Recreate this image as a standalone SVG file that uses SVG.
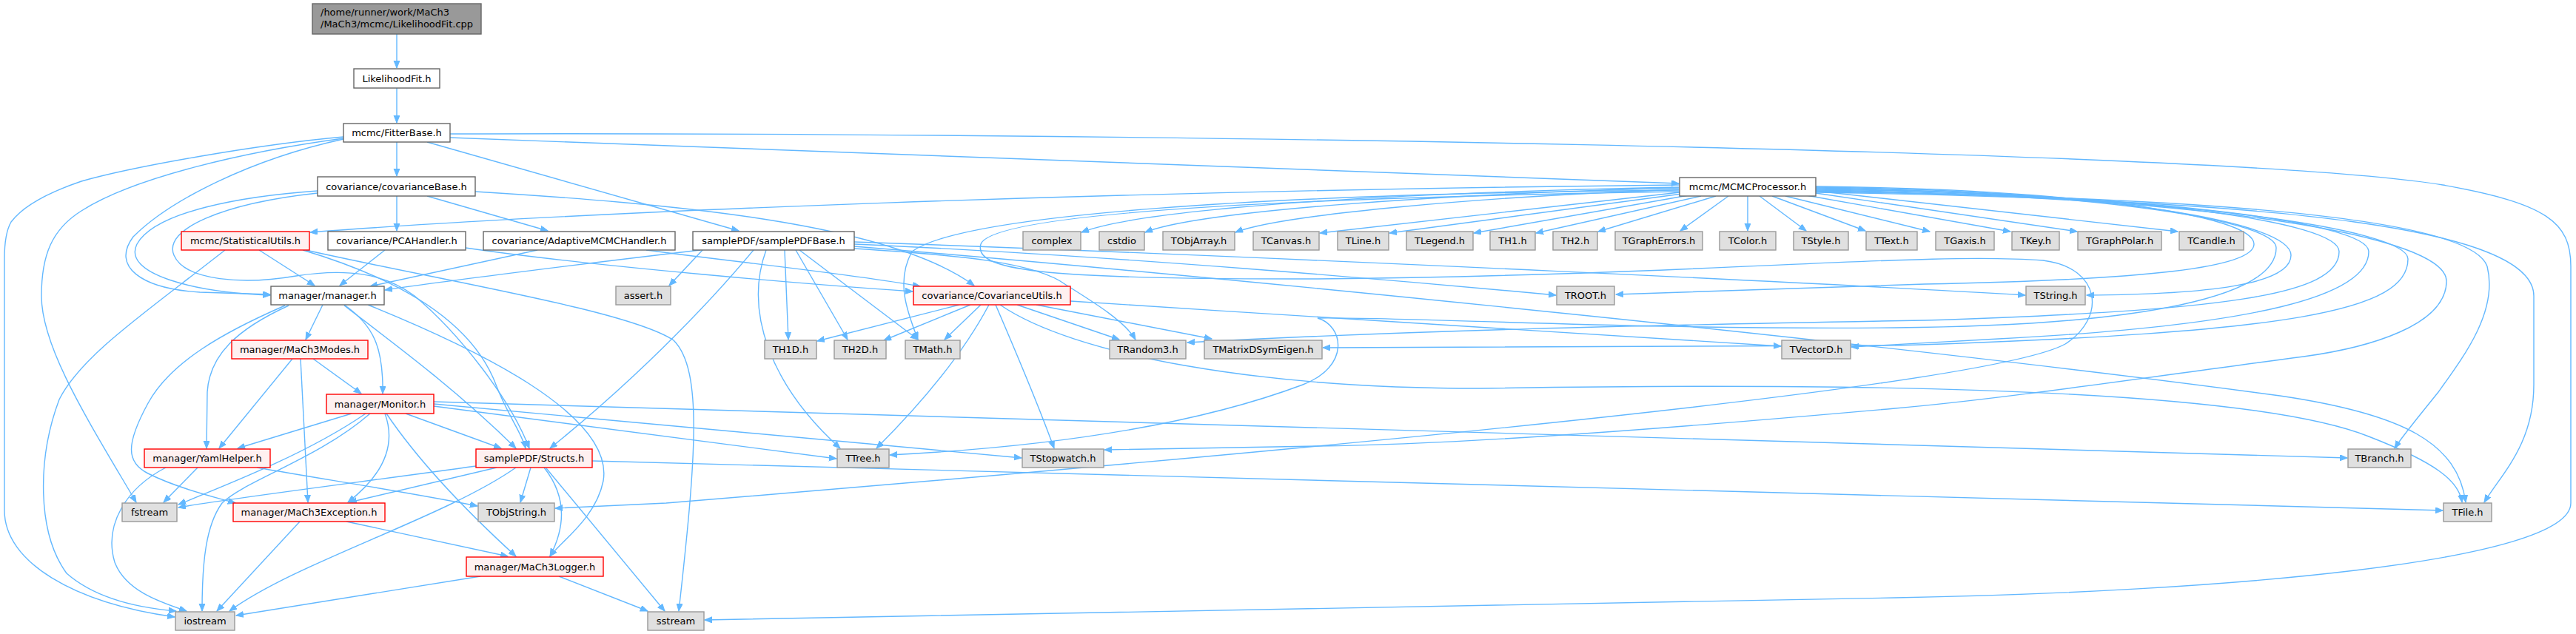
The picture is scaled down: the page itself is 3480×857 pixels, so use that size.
<svg xmlns="http://www.w3.org/2000/svg" width="3480" height="857" viewBox="0 0 3480 857">
<style>
.e{fill:none;stroke:#63B8FF;stroke-width:1.4;marker-end:url(#a)}
.w rect{fill:#FFFFFF;stroke:#666666;stroke-width:1.4}
.g rect{fill:#E0E0E0;stroke:#999999;stroke-width:1.4}
.r rect{fill:#FFF0F0;stroke:#FF0000;stroke-width:1.4}
.top rect{fill:#999999;stroke:#666666;stroke-width:1.4}
text{font-family:"DejaVu Sans","Liberation Sans",sans-serif;font-size:13px;fill:#000000;text-anchor:middle}
</style>
<defs>
<marker id="a" markerUnits="userSpaceOnUse" markerWidth="11" markerHeight="9" refX="10" refY="4" orient="auto"><path d="M0,0 L10,4 L0,8 z" fill="#63B8FF" stroke="#63B8FF" stroke-width="1"/></marker>
</defs>
<rect x="0" y="0" width="3480" height="857" fill="#FFFFFF"/>
<g id="edges">
<path class="e" d="M536,46 L536,92"/>
<path class="e" d="M536,119 L536,166"/>
<path class="e" d="M536,192 L536,238"/>
<path class="e" d="M608,186 L2268,248"/>
<path class="e" d="M577,192 L998,312"/>
<path class="e" d="M608,181 C1400,178 3000,200 3300,250 C3440,275 3473,300 3473,360 L3473,680 C3473,760 3000,800 2560,808 C1900,822 1300,835 952,838"/>
<path class="e" d="M464,185 C350,195 180,225 110,245 C60,262 30,280 15,300 C8,312 6,330 6,350 L6,690 C6,760 100,815 236,834"/>
<path class="e" d="M464,187 C330,205 180,240 110,285 C70,310 56,345 56,400 C56,470 120,570 184,679"/>
<path class="e" d="M464,188 C340,215 230,270 180,320 C150,360 190,390 270,395 L365,398"/>
<path class="e" d="M536,265 L536,312"/>
<path class="e" d="M577,265 L740,312"/>
<path class="e" d="M642,259 C900,275 1200,300 1316,386"/>
<path class="e" d="M429,258 C330,265 210,285 185,330 C165,370 260,395 365,399"/>
<path class="e" d="M429,261 C300,275 220,310 235,345 C250,380 330,385 400,373 C470,362 520,370 560,400 C620,450 690,540 715,606"/>
<path class="e" d="M350,338 L425,386"/>
<path class="e" d="M304,338 C200,420 110,480 80,540 C50,620 50,720 90,775 C130,810 190,822 238,826"/>
<path class="e" d="M409,338 C550,380 640,440 670,520 C685,560 705,585 710,606"/>
<path class="e" d="M413,338 C600,380 850,420 910,460 C950,500 940,620 917,826"/>
<path class="e" d="M520,338 L459,386"/>
<path class="e" d="M629,335 C800,360 1100,385 1233,394"/>
<path class="e" d="M726,338 L500,387"/>
<path class="e" d="M873,338 C1000,355 1150,370 1243,387"/>
<path class="e" d="M946,338 C800,355 600,380 520,392"/>
<path class="e" d="M949,338 L904,386"/>
<path class="e" d="M436,412 L413,459"/>
<path class="e" d="M465,412 C505,440 518,470 517,532"/>
<path class="e" d="M390,413 C320,445 283,480 280,530 L279,606"/>
<path class="e" d="M385,413 C300,450 230,490 200,545 C170,600 170,625 200,640 C240,660 290,672 318,680"/>
<path class="e" d="M465,413 C540,470 620,530 697,606"/>
<path class="e" d="M497,412 C640,470 830,560 815,650 C805,700 760,730 743,752"/>
<path class="e" d="M395,485 L296,606"/>
<path class="e" d="M406,485 L416,679"/>
<path class="e" d="M423,485 L488,532"/>
<path class="e" d="M475,559 L321,606"/>
<path class="e" d="M494,559 C420,610 320,650 241,682"/>
<path class="e" d="M500,559 C430,620 330,650 300,680 C278,710 273,760 273,826"/>
<path class="e" d="M520,559 C535,600 520,640 470,679"/>
<path class="e" d="M548,559 L677,606"/>
<path class="e" d="M522,559 C570,630 640,700 697,752"/>
<path class="e" d="M586,543 C1500,570 2500,600 3171,619"/>
<path class="e" d="M586,546 C900,577 1200,600 1380,619"/>
<path class="e" d="M586,549 C900,590 1050,610 1130,620"/>
<path class="e" d="M224,632 C170,660 140,710 155,760 C170,800 220,815 252,826"/>
<path class="e" d="M267,632 L221,679"/>
<path class="e" d="M347,632 C450,650 550,665 645,684"/>
<path class="e" d="M643,630 C500,650 300,675 241,686"/>
<path class="e" d="M671,632 L472,679"/>
<path class="e" d="M697,632 C600,700 400,760 310,826"/>
<path class="e" d="M717,632 L703,679"/>
<path class="e" d="M735,632 C765,670 765,710 743,752"/>
<path class="e" d="M738,633 L898,826"/>
<path class="e" d="M800,623 L3300,690"/>
<path class="e" d="M468,705 L686,752"/>
<path class="e" d="M405,705 L293,826"/>
<path class="e" d="M649,779 L319,832"/>
<path class="e" d="M755,779 L875,826"/>
<path class="e" d="M1296,412 L1104,461"/>
<path class="e" d="M1311,412 L1194,460"/>
<path class="e" d="M1325,412 L1276,459"/>
<path class="e" d="M1336,412 C1300,480 1240,550 1184,606"/>
<path class="e" d="M1345,412 C1370,470 1400,540 1424,606"/>
<path class="e" d="M1374,412 L1512,459"/>
<path class="e" d="M1400,412 L1637,458"/>
<path class="e" d="M1446,407 C1800,430 2200,455 2406,468"/>
<path class="e" d="M1351,412 C1450,480 1700,525 2000,525 C2600,515 3050,530 3200,590 C3290,625 3322,650 3326,679"/>
<path class="e" d="M1060,338 L1065,459"/>
<path class="e" d="M1075,338 L1145,459"/>
<path class="e" d="M1080,338 L1240,459"/>
<path class="e" d="M1035,338 C1005,420 1040,520 1135,606"/>
<path class="e" d="M1018,338 C950,420 850,520 743,606"/>
<path class="e" d="M1154,330 C1500,345 1900,380 2102,399"/>
<path class="e" d="M1154,327 C1800,350 2500,385 2736,399"/>
<path class="e" d="M1154,336 C1300,345 1400,355 1440,385 C1480,410 1520,435 1534,459"/>
<path class="e" d="M1154,333 C1700,378 2600,470 3080,535 C3250,560 3320,600 3331,679"/>
<path class="e" d="M2268,250 C1500,258 800,285 419,314"/>
<path class="e" d="M2268,253 C1900,260 1550,280 1461,314"/>
<path class="e" d="M2268,254 C1950,262 1620,285 1547,314"/>
<path class="e" d="M2268,256 C2000,266 1730,290 1669,314"/>
<path class="e" d="M2269,260 L1783,315"/>
<path class="e" d="M2272,262 L1877,315"/>
<path class="e" d="M2281,264 L1991,315"/>
<path class="e" d="M2298,265 L2075,315"/>
<path class="e" d="M2318,265 L2159,313"/>
<path class="e" d="M2335,265 L2270,312"/>
<path class="e" d="M2361,265 L2361,312"/>
<path class="e" d="M2377,265 L2440,312"/>
<path class="e" d="M2394,265 L2520,312"/>
<path class="e" d="M2412,265 L2607,313"/>
<path class="e" d="M2440,264 L2716,313"/>
<path class="e" d="M2453,261 L2806,313"/>
<path class="e" d="M2453,258 L2942,313"/>
<path class="e" d="M2268,257 C1700,262 1300,290 1232,340 C1210,380 1225,420 1240,459"/>
<path class="e" d="M2268,259 C1700,268 1340,290 1325,330 C1315,365 1400,378 1780,377 C2300,372 2600,340 2760,352 C2840,362 2845,430 2790,465 C2700,515 2000,590 900,680 L750,687"/>
<path class="e" d="M2453,252 C2800,256 3045,290 3045,330 C3045,362 2900,378 2600,384 L2183,398"/>
<path class="e" d="M2453,253 C2850,258 3095,300 3095,345 C3095,385 2980,398 2819,399"/>
<path class="e" d="M2453,254 C2850,260 3075,300 3075,335 C3075,400 2900,440 2560,443 C2200,446 1900,428 1780,430 C1815,440 1825,495 1760,520 C1600,580 1400,605 1202,615"/>
<path class="e" d="M2453,255 C2900,262 3160,300 3160,340 C3160,400 3000,420 2600,433 C2200,440 1900,447 1604,463"/>
<path class="e" d="M2453,256 C2900,262 3200,300 3200,340 C3200,400 3050,440 2700,458 L2501,469"/>
<path class="e" d="M2453,257 C2950,264 3253,310 3253,350 C3253,420 3100,450 2560,467 C2200,470 1900,470 1787,470"/>
<path class="e" d="M2453,258 C3000,266 3305,320 3305,380 C3305,440 3200,470 3112,482 C2900,510 2700,540 2560,552 C2300,575 2000,600 1780,603 L1492,608"/>
<path class="e" d="M2453,259 C3050,268 3340,300 3360,360 C3375,420 3330,480 3294,530 C3270,560 3245,590 3235,606"/>
<path class="e" d="M2453,260 C3100,270 3423,310 3423,400 L3423,520 C3423,600 3380,640 3356,679"/>
</g>
<g id="n0" class="top"><rect x="422" y="5" width="228" height="41"/><text x="433" y="21" style="text-anchor:start">/home/runner/work/MaCh3</text><text x="433" y="37" style="text-anchor:start">/MaCh3/mcmc/LikelihoodFit.cpp</text></g>
<g id="n1" class="w"><rect x="478" y="93" width="116" height="26"/><text x="536" y="110.5">LikelihoodFit.h</text></g>
<g id="n2" class="w"><rect x="464" y="167" width="144" height="25"/><text x="536" y="184">mcmc/FitterBase.h</text></g>
<g id="n3" class="w"><rect x="429" y="239" width="213" height="26"/><text x="535.5" y="256.5">covariance/covarianceBase.h</text></g>
<g id="n4" class="w"><rect x="2269" y="240" width="184" height="25"/><text x="2361" y="257">mcmc/MCMCProcessor.h</text></g>
<g id="n5" class="r"><rect x="245" y="313" width="173" height="25"/><text x="331.5" y="330">mcmc/StatisticalUtils.h</text></g>
<g id="n6" class="w"><rect x="443" y="313" width="186" height="25"/><text x="536" y="330">covariance/PCAHandler.h</text></g>
<g id="n7" class="w"><rect x="653" y="313" width="259" height="25"/><text x="782.5" y="330">covariance/AdaptiveMCMCHandler.h</text></g>
<g id="n8" class="w"><rect x="936" y="313" width="218" height="25"/><text x="1045" y="330">samplePDF/samplePDFBase.h</text></g>
<g id="n9" class="g"><rect x="1382" y="313" width="78" height="25"/><text x="1421" y="330">complex</text></g>
<g id="n10" class="g"><rect x="1485" y="313" width="61" height="25"/><text x="1515.5" y="330">cstdio</text></g>
<g id="n11" class="g"><rect x="1571" y="313" width="97" height="25"/><text x="1619.5" y="330">TObjArray.h</text></g>
<g id="n12" class="g"><rect x="1693" y="313" width="89" height="25"/><text x="1737.5" y="330">TCanvas.h</text></g>
<g id="n13" class="g"><rect x="1807" y="313" width="69" height="25"/><text x="1841.5" y="330">TLine.h</text></g>
<g id="n14" class="g"><rect x="1900" y="313" width="90" height="25"/><text x="1945" y="330">TLegend.h</text></g>
<g id="n15" class="g"><rect x="2013" y="313" width="61" height="25"/><text x="2043.5" y="330">TH1.h</text></g>
<g id="n16" class="g"><rect x="2098" y="313" width="60" height="25"/><text x="2128" y="330">TH2.h</text></g>
<g id="n17" class="g"><rect x="2182" y="313" width="118" height="25"/><text x="2241" y="330">TGraphErrors.h</text></g>
<g id="n18" class="g"><rect x="2323" y="313" width="76" height="25"/><text x="2361" y="330">TColor.h</text></g>
<g id="n19" class="g"><rect x="2423" y="313" width="74" height="25"/><text x="2460" y="330">TStyle.h</text></g>
<g id="n20" class="g"><rect x="2521" y="313" width="69" height="25"/><text x="2555.5" y="330">TText.h</text></g>
<g id="n21" class="g"><rect x="2615" y="313" width="79" height="25"/><text x="2654.5" y="330">TGaxis.h</text></g>
<g id="n22" class="g"><rect x="2718" y="313" width="64" height="25"/><text x="2750" y="330">TKey.h</text></g>
<g id="n23" class="g"><rect x="2807" y="313" width="113" height="25"/><text x="2863.5" y="330">TGraphPolar.h</text></g>
<g id="n24" class="g"><rect x="2944" y="313" width="87" height="25"/><text x="2987.5" y="330">TCandle.h</text></g>
<g id="n25" class="w"><rect x="366" y="387" width="153" height="25"/><text x="442.5" y="404">manager/manager.h</text></g>
<g id="n26" class="g"><rect x="832" y="387" width="74" height="25"/><text x="869" y="404">assert.h</text></g>
<g id="n27" class="r"><rect x="1234" y="387" width="212" height="25"/><text x="1340" y="404">covariance/CovarianceUtils.h</text></g>
<g id="n28" class="g"><rect x="2103" y="387" width="78" height="25"/><text x="2142" y="404">TROOT.h</text></g>
<g id="n29" class="g"><rect x="2737" y="387" width="80" height="25"/><text x="2777" y="404">TString.h</text></g>
<g id="n30" class="r"><rect x="313" y="460" width="184" height="25"/><text x="405" y="477">manager/MaCh3Modes.h</text></g>
<g id="n31" class="g"><rect x="1033" y="460" width="70" height="25"/><text x="1068" y="477">TH1D.h</text></g>
<g id="n32" class="g"><rect x="1127" y="460" width="70" height="25"/><text x="1162" y="477">TH2D.h</text></g>
<g id="n33" class="g"><rect x="1223" y="460" width="74" height="25"/><text x="1260" y="477">TMath.h</text></g>
<g id="n34" class="g"><rect x="1499" y="460" width="103" height="25"/><text x="1550.5" y="477">TRandom3.h</text></g>
<g id="n35" class="g"><rect x="1627" y="460" width="159" height="25"/><text x="1706.5" y="477">TMatrixDSymEigen.h</text></g>
<g id="n36" class="g"><rect x="2407" y="460" width="93" height="25"/><text x="2453.5" y="477">TVectorD.h</text></g>
<g id="n37" class="r"><rect x="441" y="533" width="145" height="26"/><text x="513.5" y="550.5">manager/Monitor.h</text></g>
<g id="n38" class="r"><rect x="195" y="607" width="170" height="25"/><text x="280" y="624">manager/YamlHelper.h</text></g>
<g id="n39" class="r"><rect x="643" y="607" width="157" height="25"/><text x="721.5" y="624">samplePDF/Structs.h</text></g>
<g id="n40" class="g"><rect x="1131" y="607" width="70" height="25"/><text x="1166" y="624">TTree.h</text></g>
<g id="n41" class="g"><rect x="1381" y="607" width="110" height="25"/><text x="1436" y="624">TStopwatch.h</text></g>
<g id="n42" class="g"><rect x="3172" y="607" width="85" height="25"/><text x="3214.5" y="624">TBranch.h</text></g>
<g id="n43" class="g"><rect x="165" y="680" width="74" height="25"/><text x="202" y="697">fstream</text></g>
<g id="n44" class="r"><rect x="315" y="680" width="205" height="25"/><text x="417.5" y="697">manager/MaCh3Exception.h</text></g>
<g id="n45" class="g"><rect x="646" y="680" width="103" height="25"/><text x="697.5" y="697">TObjString.h</text></g>
<g id="n46" class="g"><rect x="3301" y="680" width="65" height="25"/><text x="3333.5" y="697">TFile.h</text></g>
<g id="n47" class="r"><rect x="630" y="753" width="185" height="26"/><text x="722.5" y="770.5">manager/MaCh3Logger.h</text></g>
<g id="n48" class="g"><rect x="237" y="827" width="80" height="25"/><text x="277" y="844">iostream</text></g>
<g id="n49" class="g"><rect x="875" y="827" width="76" height="25"/><text x="913" y="844">sstream</text></g>
</svg>
